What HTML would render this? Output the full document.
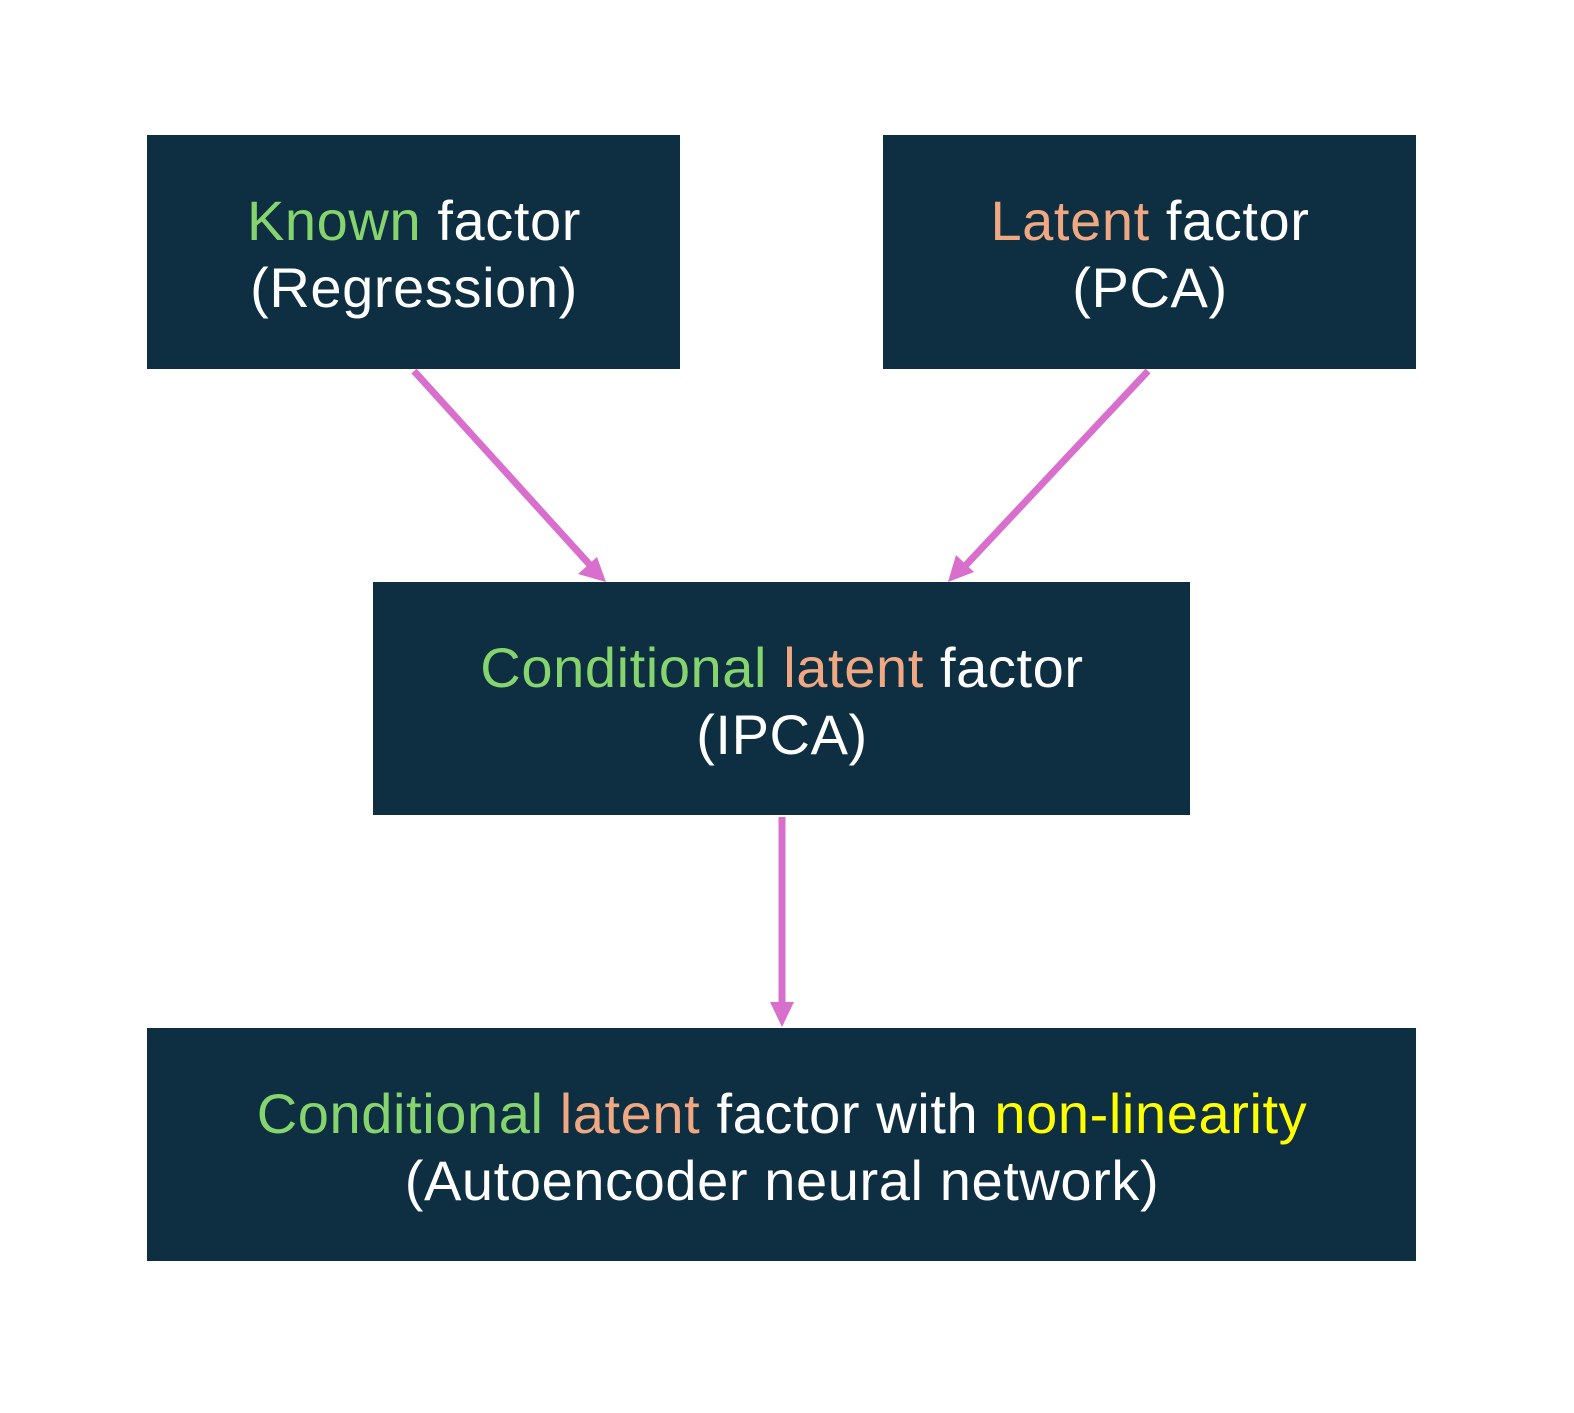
<!DOCTYPE html>
<html><head><style>html,body{margin:0;padding:0;background:#fff}</style></head><body>
<svg width="1574" height="1408" viewBox="0 0 1574 1408" xmlns="http://www.w3.org/2000/svg" font-family="Liberation Sans, sans-serif" font-size="56" letter-spacing="0.6">
<rect width="1574" height="1408" fill="#fff"/>
<g fill="#0d2f41">
<rect x="147" y="135" width="533" height="234"/>
<rect x="883" y="135" width="533" height="234"/>
<rect x="373" y="582" width="817" height="233"/>
<rect x="147" y="1028" width="1269" height="233"/>
</g>
<g stroke="#d86fcc" stroke-width="7" fill="none">
<line x1="414" y1="371" x2="590" y2="565"/>
<line x1="1148" y1="371" x2="966" y2="565"/>
<line x1="782" y1="817" x2="782" y2="1004"/>
</g>
<g fill="#d86fcc">
<polygon points="606,582 578,574 597,557"/>
<polygon points="948,582 956,555 974,572"/>
<polygon points="782,1027 770,1002 794,1002"/>
</g>
<g text-anchor="middle" fill="#fff">
<text x="414" y="240"><tspan fill="#86d46e">Known</tspan> factor</text>
<text x="414" y="307">(Regression)</text>
<text x="1150" y="240"><tspan fill="#f0a882">Latent</tspan> factor</text>
<text x="1150" y="307">(PCA)</text>
<text x="782" y="687"><tspan fill="#86d46e">Conditional</tspan> <tspan fill="#f0a882">latent</tspan> factor</text>
<text x="782" y="754">(IPCA)</text>
<text x="782" y="1133"><tspan fill="#86d46e">Conditional</tspan> <tspan fill="#f0a882">latent</tspan> factor with <tspan fill="#ffff00">non-linearity</tspan></text>
<text x="782" y="1200">(Autoencoder neural network)</text>
</g>
</svg>
</body></html>
